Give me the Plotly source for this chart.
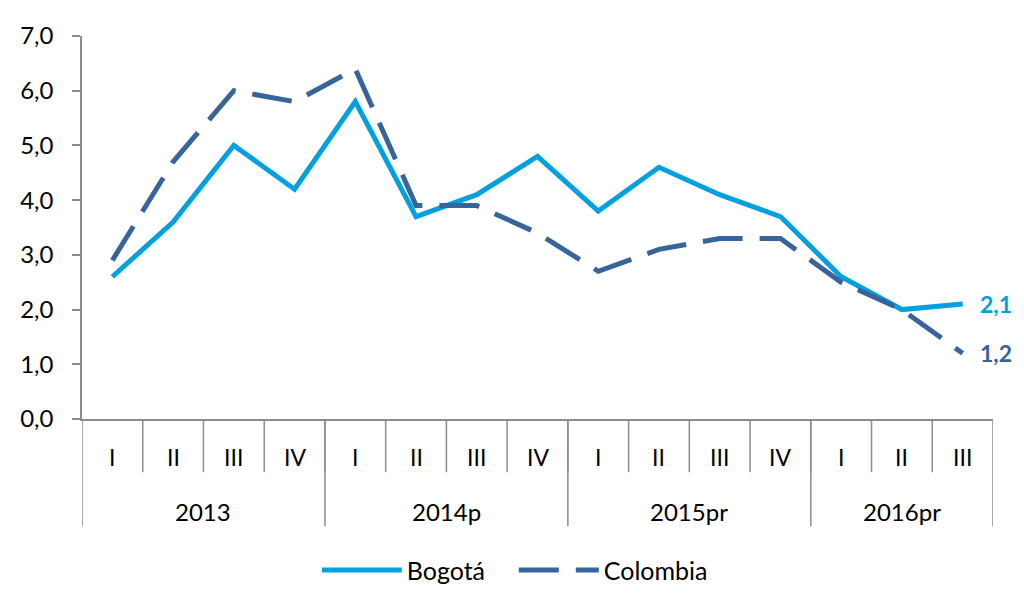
import plotly.graph_objects as go

quarters = ["I", "II", "III", "IV", "I", "II", "III", "IV", "I", "II", "III", "IV", "I", "II", "III"]
years = ["2013", "2014p", "2015pr", "2016pr"]
quarters_per_year = [4, 4, 4, 3]
bogota = [2.6, 3.6, 5.0, 4.2, 5.8, 3.7, 4.1, 4.8, 3.8, 4.6, 4.1, 3.7, 2.6, 2.0, 2.1]
colombia = [2.9, 4.7, 6.0, 5.8, 6.4, 3.9, 3.9, 3.4, 2.7, 3.1, 3.3, 3.3, 2.5, 2.0, 1.2]

C_BOG = "#00A0E1"
C_COL = "#37649A"
GRAY = "#8C8C8C"
FONT = "Lato"
FS = 23

x = list(range(len(quarters)))

fig = go.Figure()
fig.add_trace(go.Scatter(x=x, y=bogota, mode="lines", name="Bogotá",
                         line=dict(color=C_BOG, width=5)))
fig.add_trace(go.Scatter(x=x, y=colombia, mode="lines", name="Colombia",
                         line=dict(color=C_COL, width=5, dash="40px,17px")))

# end-of-series data labels
for series, col in ((bogota, C_BOG), (colombia, C_COL)):
    fig.add_annotation(x=x[-1], y=series[-1], xref="x", yref="y",
                       text=f"{series[-1]:.1f}".replace(".", ","),
                       showarrow=False, xanchor="left", xshift=15,
                       font=dict(family=FONT, size=23, color=col, weight="bold"))

shapes = []
annotations = []
# quarter labels and short separators
for i, q in enumerate(quarters):
    annotations.append(dict(x=i, y=-0.1, xref="x", yref="paper", text=q,
                            showarrow=False, yanchor="middle",
                            font=dict(family=FONT, size=FS, color="#000000")))
for i in range(1, len(quarters)):
    shapes.append(dict(type="line", xref="x", yref="paper", x0=i - 0.5, x1=i - 0.5,
                       y0=0, y1=-0.139, line=dict(color=GRAY, width=1.5)))
# year labels and long separators
start = 0
bounds = [-0.5]
for yname, n in zip(years, quarters_per_year):
    center = start + (n - 1) / 2
    annotations.append(dict(x=center, y=-0.242, xref="x", yref="paper", text=yname,
                            showarrow=False, yanchor="middle",
                            font=dict(family=FONT, size=24, color="#000000")))
    start += n
    bounds.append(start - 0.5)
for b in bounds:
    shapes.append(dict(type="line", xref="x", yref="paper", x0=b, x1=b,
                       y0=0, y1=-0.28, line=dict(color=GRAY, width=1.5)))

fig.update_layout(
    width=1008, height=598,
    margin=dict(l=73, r=23, t=24, b=185),
    paper_bgcolor="white", plot_bgcolor="white",
    separators=",.",
    font=dict(family=FONT, size=FS, color="#000000"),
    showlegend=True,
    legend=dict(orientation="h", x=0.474, xanchor="center", y=-0.335, yanchor="top",
                font=dict(family=FONT, size=25, color="#000000"),
                itemwidth=80, entrywidth=102, entrywidthmode="pixels", tracegroupgap=0),
    shapes=shapes,
)
for a in annotations:
    fig.add_annotation(**a)

fig.update_xaxes(range=[-0.5, len(quarters) - 0.5], showticklabels=False, ticks="",
                 showgrid=False, zeroline=False, showline=True, linecolor=GRAY, linewidth=1.5)
fig.update_yaxes(range=[0, 7], dtick=1, tickformat=".1f", showgrid=False, zeroline=False,
                 showline=True, linecolor=GRAY, linewidth=1.5, ticks="outside", ticklen=8,
                 tickcolor=GRAY, tickwidth=1.5, ticklabelstandoff=14,
                 tickfont=dict(family=FONT, size=24, color="#000000"))

fig.write_html("out.html")
